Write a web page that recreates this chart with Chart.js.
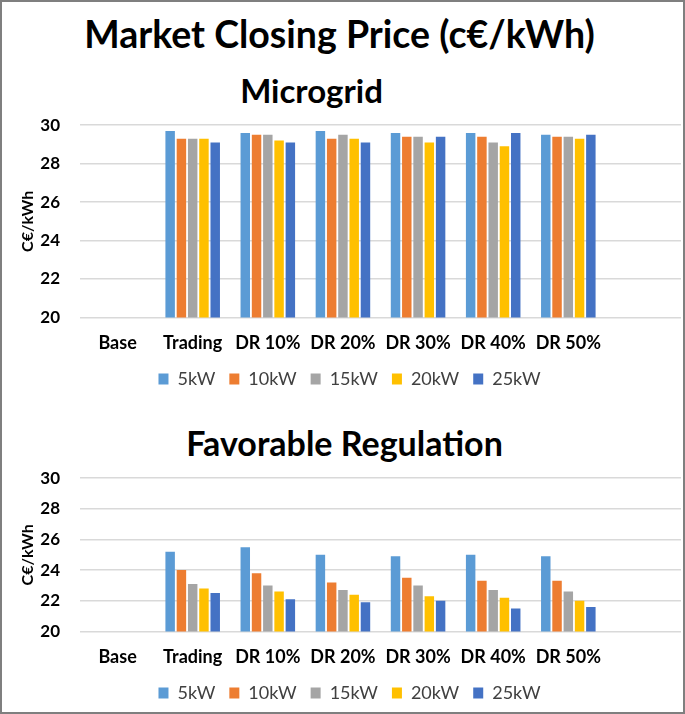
<!DOCTYPE html>
<html>
<head>
<meta charset="utf-8">
<script src="https://cdn.jsdelivr.net/npm/chart.js@4"></script>
<style>
  body { margin: 0; background: #fff; }
  #frame { position: relative; width: 685px; height: 714px; box-sizing: border-box; border: 2px solid #7f7f7f; background: #fff; font-family: Lato, "Open Sans", sans-serif; }
  .box { position: absolute; left: 0; width: 681px; }
  #top { top: 93px; height: 309px; }
  #bottom { top: 446px; height: 266px; }
  .ttl { position: absolute; width: 681px; font-weight: bold; color: #000; white-space: nowrap; line-height: 1; }
  #mainTitle { top: 13px; left: -3px; text-align: center; font-size: 37.5px; }
  #mgTitle { top: 72px; left: -31px; text-align: center; font-size: 33px; }
  #frTitle { top: 424px; left: 2px; text-align: center; font-size: 34px; }
</style>
</head>
<body>
<div id="frame">
  <div class="ttl" id="mainTitle">Market Closing Price (c€/kWh)</div>
  <div class="ttl" id="mgTitle">Microgrid</div>
  <div class="ttl" id="frTitle">Favorable Regulation</div>
  <div class="box" id="top"><canvas id="mgChart"></canvas></div>
  <div class="box" id="bottom"><canvas id="frChart"></canvas></div>
</div>
<script>
const categories = ['Base', 'Trading', 'DR 10%', 'DR 20%', 'DR 30%', 'DR 40%', 'DR 50%', ''];
const seriesNames = ['5kW', '10kW', '15kW', '20kW', '25kW'];
const seriesColors = ['#5B9BD5', '#ED7D31', '#A5A5A5', '#FFC000', '#4472C4'];
const yTicks = [20, 22, 24, 26, 28, 30];

// Microgrid
const mg5  = [null, 29.7, 29.6, 29.7, 29.6, 29.6, 29.5, null];
const mg10 = [null, 29.3, 29.5, 29.3, 29.4, 29.4, 29.4, null];
const mg15 = [null, 29.3, 29.5, 29.5, 29.4, 29.1, 29.4, null];
const mg20 = [null, 29.3, 29.2, 29.3, 29.1, 28.9, 29.3, null];
const mg25 = [null, 29.1, 29.1, 29.1, 29.4, 29.6, 29.5, null];

// Favorable Regulation
const fr5  = [null, 25.2, 25.5, 25.0, 24.9, 25.0, 24.9, null];
const fr10 = [null, 24.0, 23.8, 23.2, 23.5, 23.3, 23.3, null];
const fr15 = [null, 23.1, 23.0, 22.7, 23.0, 22.7, 22.6, null];
const fr20 = [null, 22.8, 22.6, 22.4, 22.3, 22.2, 22.0, null];
const fr25 = [null, 22.5, 22.1, 21.9, 22.0, 21.5, 21.6, null];

Chart.defaults.font.family = 'Lato, "Open Sans", sans-serif';
Chart.defaults.color = '#000';

function makeDatasets(list) {
    return list.map((vals, i) => ({
        label: seriesNames[i],
        data: vals,
        backgroundColor: seriesColors[i],
        borderWidth: 0,
        categoryPercentage: 0.75,
        barPercentage: 0.84
    }));
}

function makeOptions(pad) {
    return {
        responsive: true,
        maintainAspectRatio: false,
        animation: false,
        layout: { padding: pad },
        plugins: {
            legend: {
                position: 'bottom',
                labels: {
                    boxWidth: 10,
                    boxHeight: 11,
                    padding: 14,
                    color: '#404040',
                    font: { size: 18 }
                }
            },
            tooltip: { enabled: false }
        },
        scales: {
            x: {
                grid: { display: false, drawTicks: false },
                border: { display: false },
                ticks: { font: { size: 18, weight: 'bold' }, padding: 15, maxRotation: 0, autoSkip: false },
                // pull the legend closer to the category labels
                afterFit: axis => { axis.height -= 13; }
            },
            y: {
                min: 20,
                max: 30,
                afterBuildTicks: axis => { axis.ticks = yTicks.map(v => ({ value: v })); },
                afterFit: axis => { axis.width = 62; },
                grid: { color: '#d9d9d9', lineWidth: 1.5, drawTicks: false },
                border: { display: false },
                ticks: { font: { size: 17, weight: 'bold' }, padding: 20, autoSkip: false },
                title: { display: true, text: 'C€/kWh', font: { size: 16, weight: 'bold' }, padding: { top: 0, bottom: 0 } }
            }
        }
    };
}

new Chart(document.getElementById('mgChart'), {
    type: 'bar',
    data: { labels: categories, datasets: makeDatasets([mg5, mg10, mg15, mg20, mg25]) },
    options: makeOptions({ left: 16, right: 2, top: 12, bottom: 6 })
});

new Chart(document.getElementById('frChart'), {
    type: 'bar',
    data: { labels: categories, datasets: makeDatasets([fr5, fr10, fr15, fr20, fr25]) },
    options: makeOptions({ left: 16, right: 2, top: 12, bottom: 2 })
});
</script>
</body>
</html>
